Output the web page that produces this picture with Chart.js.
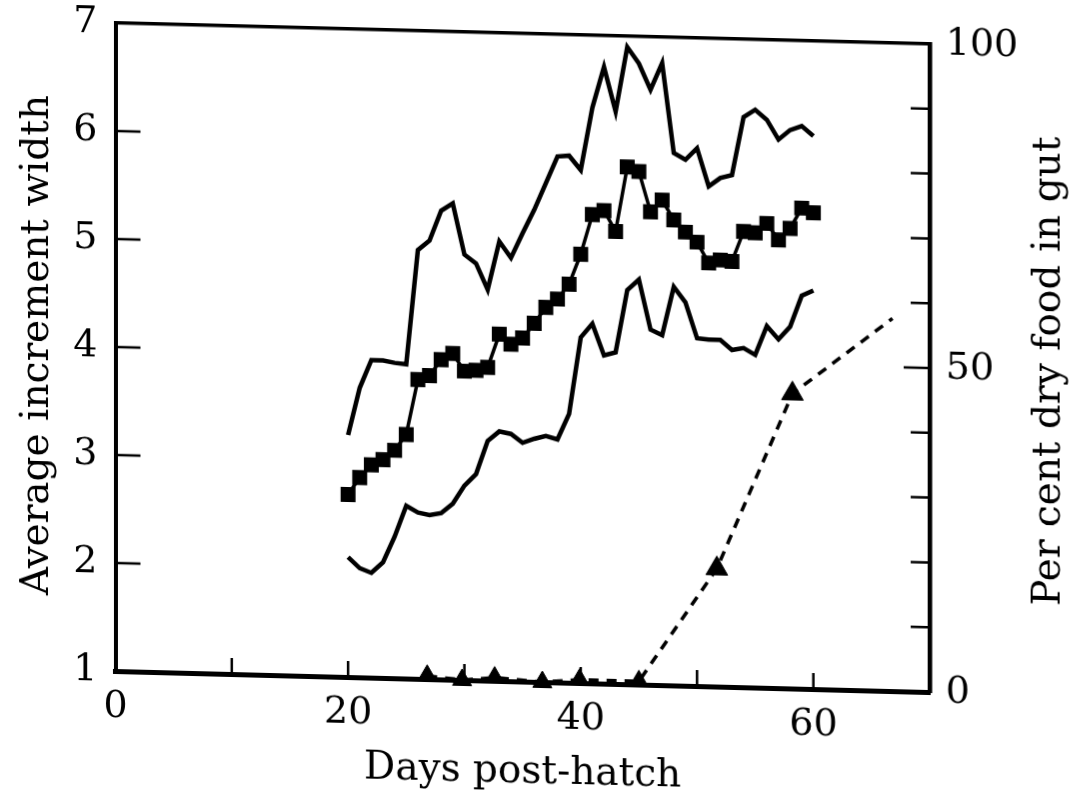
<!DOCTYPE html>
<html><head><meta charset="utf-8">
<script src="https://cdn.jsdelivr.net/npm/chart.js@4/dist/chart.umd.min.js"></script>
<style>
html,body{margin:0;padding:0;background:#fff;overflow:hidden;}
#wrap{position:relative;width:1086px;height:801px;transform:skewY(1.48deg);transform-origin:115px 671px;}
</style></head><body>
<div id="wrap"><canvas id="c"></canvas></div>
<script>
const days = [20,21,22,23,24,25,26,27,28,29,30,31,32,33,34,35,36,37,38,39,40,41,42,43,44,45,46,47,48,49,50,51,52,53,54,55,56,57,58,59,60];
const upperWidth = [3.24,3.68,3.94,3.94,3.92,3.91,4.97,5.06,5.34,5.41,4.94,4.86,4.62,5.07,4.92,5.15,5.37,5.62,5.87,5.88,5.75,6.33,6.71,6.30,6.90,6.75,6.51,6.76,5.93,5.87,5.98,5.63,5.71,5.74,6.28,6.35,6.26,6.08,6.17,6.21,6.12];
const meanWidth = [2.69,2.85,2.97,3.02,3.11,3.26,3.77,3.81,3.96,4.02,3.86,3.87,3.90,4.21,4.12,4.18,4.32,4.47,4.55,4.69,4.97,5.34,5.38,5.19,5.79,5.75,5.38,5.49,5.31,5.20,5.11,4.92,4.95,4.94,5.22,5.21,5.30,5.15,5.26,5.45,5.41];
const lowerWidth = [2.11,2.01,1.97,2.07,2.31,2.60,2.54,2.52,2.54,2.63,2.80,2.91,3.22,3.31,3.29,3.21,3.25,3.28,3.25,3.49,4.20,4.33,4.04,4.07,4.65,4.75,4.29,4.24,4.69,4.55,4.22,4.21,4.21,4.12,4.14,4.08,4.35,4.23,4.35,4.64,4.69];
const foodDays = [26.8,29.8,32.6,36.7,39.9,45.0,51.7,58.2,66.8];
const foodPercent = [0.5,0,0.5,0,0.5,0.5,18.2,45.5,57.5];
const foodMarker = [11,11,11,11,11,11,12.5,12.5,0];
const xTickLabels = [0,20,40,60];
const xTickMarks = [10,20,30,40,50,60];
const leftTickMarks = [2,3,4,5,6];
const rightTickMarks = [10,20,30,40,50,60,70,80,90];
const xTitle = 'Days post-hatch';
const leftTitle = 'Average increment width';
const rightTitle = 'Per cent dry food in gut';

const FONT = '"DejaVu Serif", serif';

const pairs = (xs, ys) => xs.map((x,i)=>({x, y: ys[i]}));
const noPad = s => { s.paddingTop = 0; s.paddingBottom = 0; s.paddingLeft = 0; s.paddingRight = 0; };

const inwardTicks = {
  id: 'inwardTicks',
  afterDraw(chart) {
    const {ctx, chartArea: a, scales} = chart;
    ctx.save();
    ctx.strokeStyle = '#000';
    ctx.lineWidth = 2.5;
    ctx.beginPath();
    for (const v of leftTickMarks) {
      const y = scales.y.getPixelForValue(v);
      ctx.moveTo(a.left, y); ctx.lineTo(a.left + 25, y);
    }
    for (const v of rightTickMarks) {
      const y = scales.y1.getPixelForValue(v);
      const len = v === 50 ? 26 : 19;
      ctx.moveTo(a.right - len, y); ctx.lineTo(a.right, y);
    }
    for (const v of xTickMarks) {
      const x = scales.x.getPixelForValue(v);
      ctx.moveTo(x, a.bottom); ctx.lineTo(x, a.bottom - 16);
    }
    ctx.stroke();
    ctx.fillStyle = '#000';
    ctx.font = '39px ' + FONT;
    ctx.textAlign = 'center';
    ctx.textBaseline = 'middle';
    ctx.translate(scales.y1.right - 36, (a.top + a.bottom) / 2);
    ctx.rotate(-Math.PI / 2);
    ctx.fillText(rightTitle, 0, 0);
    ctx.restore();
  }
};

new Chart(document.getElementById('c'), {
  type: 'line',
  data: {
    datasets: [
      { data: pairs(days, upperWidth), yAxisID: 'y', borderColor: '#000', borderWidth: 4.5, pointRadius: 0, tension: 0, clip: false },
      { data: pairs(days, lowerWidth), yAxisID: 'y', borderColor: '#000', borderWidth: 4.5, pointRadius: 0, tension: 0, clip: false },
      { data: pairs(days, meanWidth), yAxisID: 'y', borderColor: '#000', borderWidth: 3.5, pointStyle: 'rect', pointRadius: 9.5, pointBackgroundColor: '#000', pointBorderColor: '#000', pointBorderWidth: 1.5, tension: 0, clip: false },
      { data: pairs(foodDays, foodPercent), yAxisID: 'y1', borderColor: '#000', borderWidth: 3.5, borderDash: [10, 8], pointStyle: 'triangle', pointRadius: foodMarker, pointBackgroundColor: '#000', pointBorderColor: '#000', pointBorderWidth: 1, tension: 0, clip: false }
    ]
  },
  options: {
    responsive: true,
    maintainAspectRatio: false,
    animation: false,
    events: [],
    layout: { padding: 0 },
    plugins: { legend: { display: false }, tooltip: { enabled: false } },
    scales: {
      x: {
        type: 'linear', position: 'bottom', min: 0, max: 70,
        afterBuildTicks: s => { s.ticks = xTickLabels.map(v => ({ value: v })); },
        afterFit: s => { s.height = 130; noPad(s); },
        grid: { display: false, drawTicks: false },
        border: { display: true, color: '#000', width: 5 },
        ticks: { color: '#000', font: { family: FONT, size: 38 }, padding: 13, maxRotation: 0, autoSkip: false },
        title: { display: true, text: xTitle, color: '#000', font: { family: FONT, size: 39 }, padding: { top: 16, bottom: 16 } }
      },
      x2: {
        type: 'linear', position: 'top', min: 0, max: 70,
        afterFit: s => { s.height = 23; noPad(s); },
        grid: { display: false, drawTicks: false },
        border: { display: true, color: '#000', width: 3.5 },
        ticks: { display: false }
      },
      y: {
        type: 'linear', position: 'left', min: 1, max: 7,
        afterFit: s => { s.width = 115.5; noPad(s); },
        grid: { display: false, drawTicks: false },
        border: { display: true, color: '#000', width: 4 },
        ticks: { color: '#000', font: { family: FONT, size: 38 }, padding: 18, stepSize: 1 },
        title: { display: true, text: leftTitle, color: '#000', font: { family: FONT, size: 39 }, padding: { top: 14, bottom: 14 } }
      },
      y1: {
        type: 'linear', position: 'right', min: 0, max: 100,
        afterFit: s => { s.width = 156; noPad(s); },
        grid: { display: false, drawTicks: false },
        border: { display: true, color: '#000', width: 4.5 },
        ticks: { color: '#000', font: { family: FONT, size: 38 }, padding: 16, stepSize: 50 }
      }
    }
  },
  plugins: [inwardTicks]
});
</script>
</body></html>
